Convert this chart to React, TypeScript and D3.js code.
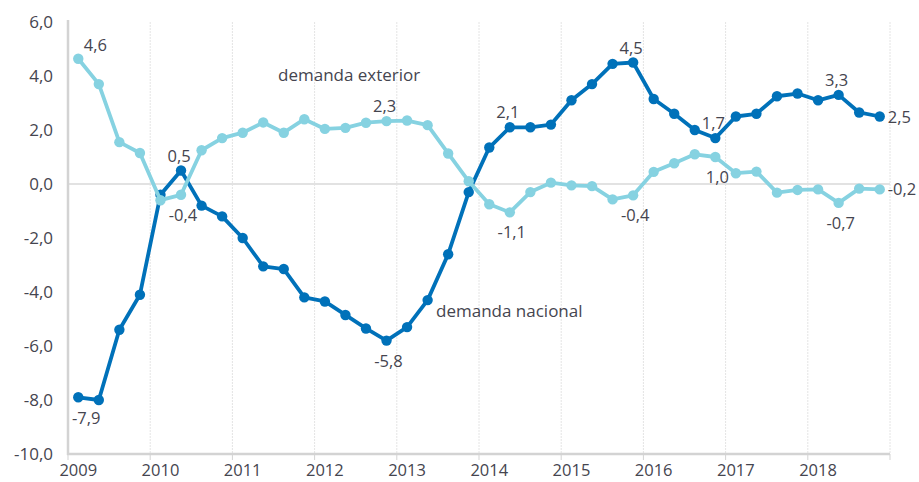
import React from "react";
import * as d3 from "d3";

const years = ["2009", "2010", "2011", "2012", "2013", "2014", "2015", "2016", "2017", "2018"];
const quarters = ["T1", "T2", "T3", "T4"];
const yTicks = [6, 4, 2, 0, -2, -4, -6, -8, -10];

const nacional = [
  -7.9, -8.0, -5.4, -4.1,
  -0.4, 0.5, -0.8, -1.2,
  -2.0, -3.05, -3.15, -4.2,
  -4.35, -4.85, -5.35, -5.8,
  -5.3, -4.3, -2.6, -0.3,
  1.35, 2.1, 2.1, 2.2,
  3.1, 3.7, 4.45, 4.5,
  3.15, 2.6, 2.0, 1.7,
  2.5, 2.6, 3.25, 3.35,
  3.1, 3.3, 2.65, 2.5,
];

const exterior = [
  4.64, 3.7, 1.55, 1.15,
  -0.6, -0.4, 1.25, 1.7,
  1.9, 2.28, 1.9, 2.4,
  2.04, 2.08, 2.27, 2.33,
  2.35, 2.18, 1.13, 0.1,
  -0.75, -1.05, -0.3, 0.05,
  -0.05, -0.08, -0.57, -0.42,
  0.45, 0.77, 1.1, 1.0,
  0.4, 0.46, -0.32, -0.22,
  -0.2, -0.7, -0.17, -0.2,
];

// labelled points: [index, placement]
const nacLabels: [number, string][] = [
  [0, "belowRight"], [5, "above"], [15, "below"], [21, "above"], [27, "above"], [31, "above"], [37, "above"], [39, "right"],
];
const extLabels: [number, string][] = [
  [0, "aboveRight"], [5, "below"], [15, "above"], [21, "below"], [27, "below"], [31, "below"], [37, "below"], [39, "right"],
];

const W = 919;
const H = 482;
const left = 68;
const right = 890;
const top = 22;
const bottom = 454;

const keys = years.flatMap((y) => quarters.map((q) => `${y}-${q}`));

const fmt = (v: number) => v.toFixed(1).replace(".", ",");

export default function App() {
  const x = d3.scaleBand<string>().domain(keys).range([left, right]).paddingInner(0).paddingOuter(0);
  const cx = (i: number) => (x(keys[i]) as number) + x.bandwidth() / 2;
  const y = d3.scaleLinear().domain([-10, 6]).range([bottom, top]);

  const line = d3
    .line<number>()
    .x((_, i) => cx(i))
    .y((d) => y(d));

  const darkC = "#0071b9";
  const lightC = "#86d2e1";
  const textC = "#45454f";
  const font = "'Open Sans', 'Noto Sans', sans-serif";

  const labelPos = (i: number, v: number, p: string) => {
    const px = cx(i);
    const py = y(v);
    switch (p) {
      case "above":
        return { x: px - 2, y: py - 9, anchor: "middle" };
      case "below":
        return { x: px + 2, y: py + 26, anchor: "middle" };
      case "belowRight":
        return { x: px + 8, y: py + 27, anchor: "middle" };
      case "aboveRight":
        return { x: px + 17, y: py - 8, anchor: "middle" };
      case "right":
      default:
        return { x: px + 8, y: py + 6, anchor: "start" };
    }
  };

  const yearBoundaries = d3.range(1, years.length + 1).map((k) => left + k * 4 * x.bandwidth());

  return (
    <svg width={W} height={H} style={{ position: "absolute", left: 0, top: 0, background: "#fff" }} fontFamily={font}>
      {/* vertical grid lines */}
      {yearBoundaries.map((gx, k) => (
        <line key={`g${k}`} x1={gx} x2={gx} y1={top} y2={bottom} stroke="#e4e4e4" strokeWidth={1} strokeDasharray="2,1" />
      ))}
      {/* zero line */}
      <line x1={left} x2={right} y1={y(0)} y2={y(0)} stroke="#e2e2e2" strokeWidth={2} />
      {/* axes */}
      <line x1={left} x2={left} y1={top - 2} y2={bottom + 1} stroke="#d3d3d3" strokeWidth={2.5} />
      <line x1={left - 1} x2={right} y1={bottom} y2={bottom} stroke="#d3d3d3" strokeWidth={2.5} />
      {[left, ...yearBoundaries].map((gx, k) => (
        <line key={`t${k}`} x1={gx} x2={gx} y1={bottom} y2={bottom + 6} stroke="#d3d3d3" strokeWidth={1} />
      ))}
      {/* y tick labels */}
      {yTicks.map((t) => (
        <text key={`y${t}`} x={53} y={y(t) + 6} textAnchor="end" fontSize={17} fill={textC}>
          {fmt(t)}
        </text>
      ))}
      {/* x labels */}
      {years.map((yr, k) => (
        <text key={`x${yr}`} x={cx(k * 4)} y={476} textAnchor="middle" fontSize={16.5} fill={textC}>
          {yr}
        </text>
      ))}
      {/* dark series */}
      <path d={line(nacional) as string} fill="none" stroke={darkC} strokeWidth={3.8} strokeLinejoin="round" />
      {nacional.map((v, i) => (
        <circle key={`n${i}`} cx={cx(i)} cy={y(v)} r={5.2} fill={darkC} />
      ))}
      {/* light series */}
      <path d={line(exterior) as string} fill="none" stroke={lightC} strokeWidth={3.8} strokeLinejoin="round" />
      {exterior.map((v, i) => (
        <circle key={`e${i}`} cx={cx(i)} cy={y(v)} r={5.2} fill={lightC} />
      ))}
      {/* value labels */}
      {nacLabels.map(([i, p]) => {
        const l = labelPos(i, nacional[i], p);
        return (
          <text key={`nl${i}`} x={l.x} y={l.y} textAnchor={l.anchor as any} fontSize={16.5} fill={textC}>
            {fmt(nacional[i])}
          </text>
        );
      })}
      {extLabels.map(([i, p]) => {
        const l = labelPos(i, exterior[i], p);
        return (
          <text key={`el${i}`} x={l.x} y={l.y} textAnchor={l.anchor as any} fontSize={16.5} fill={textC}>
            {fmt(exterior[i])}
          </text>
        );
      })}
      {/* series names */}
      <text x={278} y={81} fontSize={17} fill={textC}>demanda exterior</text>
      <text x={436} y={317} fontSize={17} fill={textC}>demanda nacional</text>
    </svg>
  );
}
